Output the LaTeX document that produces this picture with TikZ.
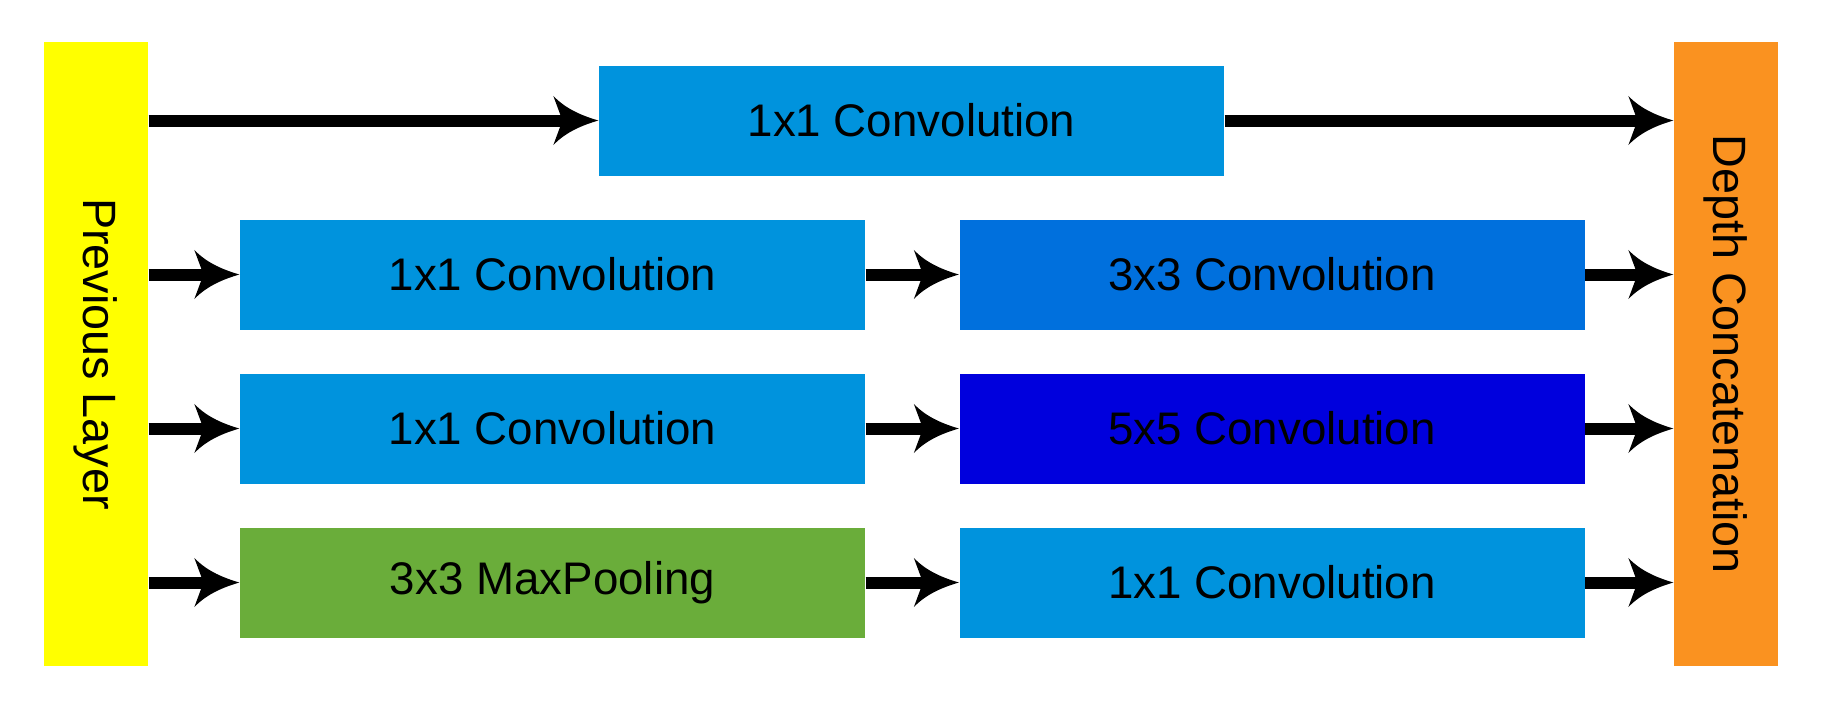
\documentclass[tikz,border=0pt]{standalone}
\usepackage{fontspec}
\setmainfont{Liberation Sans}
\usepackage{xcolor}
\usepackage{tikz}
\usetikzlibrary{arrows.meta}

\definecolor{layeryellow}{RGB}{255,255,0}
\definecolor{concatorange}{RGB}{250,146,32}
\definecolor{convlight}{RGB}{0,147,221}
\definecolor{convmid}{RGB}{0,112,221}
\definecolor{convdark}{RGB}{0,0,221}
\definecolor{poolgreen}{RGB}{106,173,58}

% swept-back arrow head
\pgfdeclarearrow{
  name = Swept,
  setup code = {
    \pgfarrowssettipend{0pt}
    \pgfarrowssetlineend{-9pt}
    \pgfarrowssetbackend{-12.8pt}
    \pgfarrowssetvisualbackend{-10.2pt}
    \pgfarrowshullpoint{0pt}{0pt}
    \pgfarrowshullpoint{-12.8pt}{7pt}
    \pgfarrowshullpoint{-12.8pt}{-7pt}
  },
  drawing code = {
    \pgfpathmoveto{\pgfpoint{0pt}{0pt}}
    \pgfpathcurveto{\pgfpoint{-4pt}{1.2pt}}{\pgfpoint{-9pt}{3pt}}{\pgfpoint{-12.8pt}{7pt}}
    \pgfpathlineto{\pgfpoint{-10.2pt}{0pt}}
    \pgfpathlineto{\pgfpoint{-12.8pt}{-7pt}}
    \pgfpathcurveto{\pgfpoint{-9pt}{-3pt}}{\pgfpoint{-4pt}{-1.2pt}}{\pgfpoint{0pt}{0pt}}
    \pgfpathclose
    \pgfusepathqfill
  }
}

\begin{document}
\begin{tikzpicture}[
    block/.style={rectangle, inner sep=0pt, minimum width=6.25cm, minimum height=1.1cm, align=center, font=\fontsize{13}{15}\selectfont},
    bar/.style={rectangle, inner sep=0pt, minimum width=1.04cm, minimum height=6.24cm, font=\fontsize{13.3}{15}\selectfont},
    flow/.style={-Swept, line width=0.12cm, black}
]
\useasboundingbox (0,0) rectangle (18.25,7);
\node[bar, fill=layeryellow] (prev) at (0.96, 3.46) {\rotatebox{-90}{Previous Layer}};
\node[bar, fill=concatorange] (concat) at (17.26, 3.46) {\rotatebox{-90}{Depth Concatenation}};

\node[block, fill=convlight] (top) at (9.115, 5.795) {1x1 Convolution};
\node[block, fill=convlight] (reduceA) at (5.525, 4.255) {1x1 Convolution};
\node[block, fill=convmid] (conv3) at (12.72, 4.255) {3x3 Convolution};
\node[block, fill=convlight] (reduceB) at (5.525, 2.715) {1x1 Convolution};
\node[block, fill=convdark] (conv5) at (12.72, 2.715) {5x5 Convolution};
\node[block, fill=poolgreen] (pool) at (5.525, 1.175) {3x3 MaxPooling};
\node[block, fill=convlight] (proj) at (12.72, 1.175) {1x1 Convolution};

% branches
\draw[flow] (prev.east |- top.west) -- (top.west);
\draw[flow] (top.east) -- (concat.west |- top.east);
\foreach \a/\b in {reduceA/conv3, reduceB/conv5, pool/proj} {
    \draw[flow] (prev.east |- \a.west) -- (\a.west);
    \draw[flow] (\a.east) -- (\b.west);
    \draw[flow] (\b.east) -- (concat.west |- \b.east);
}
\end{tikzpicture}
\end{document}
